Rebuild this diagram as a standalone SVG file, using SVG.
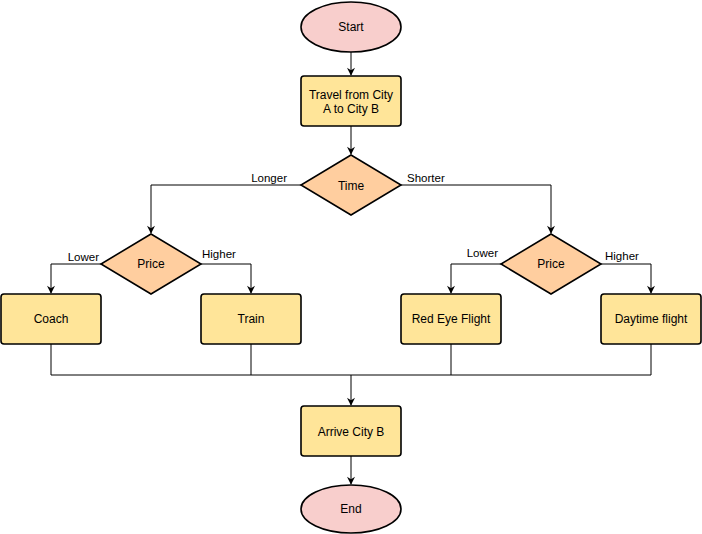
<svg xmlns="http://www.w3.org/2000/svg" width="702" height="534" viewBox="0 0 702 534">
<style>
.term{fill:#f8cecc;stroke:#000;stroke-width:1.6}
.proc{fill:#ffe599;stroke:#000;stroke-width:1.6}
.dec{fill:#ffce9f;stroke:#000;stroke-width:1.6}
.t{font-family:"Liberation Sans",Arial,sans-serif;font-size:12px;fill:#000;text-anchor:middle;dominant-baseline:central}
.l{font-family:"Liberation Sans",Arial,sans-serif;font-size:11.5px;fill:#000}
.c{fill:none;stroke:#000;stroke-width:1}
</style>
<defs>
<marker id="arr" viewBox="0 0 10 10" refX="9" refY="5" markerWidth="9" markerHeight="8" markerUnits="userSpaceOnUse" orient="auto">
<path d="M0,0 L10,5 L0,10 L3,5 Z" fill="#000"/>
</marker>
</defs>
<rect width="702" height="534" fill="#fff"/>
<g id="connectors">
<path class="c" d="M351,52 V75" marker-end="url(#arr)"/>
<path class="c" d="M351,126 V154" marker-end="url(#arr)"/>
<path class="c" d="M301,185 H151 V233" marker-end="url(#arr)"/>
<path class="c" d="M401,185 H551 V233" marker-end="url(#arr)"/>
<path class="c" d="M101,264 H51 V293" marker-end="url(#arr)"/>
<path class="c" d="M201,264 H251 V293" marker-end="url(#arr)"/>
<path class="c" d="M501,264 H451 V293" marker-end="url(#arr)"/>
<path class="c" d="M601,264 H651 V293" marker-end="url(#arr)"/>
<path class="c" d="M51,344 V375 H651 V344 M251,344 V375 M451,344 V375"/>
<path class="c" d="M351,375 V405" marker-end="url(#arr)"/>
<path class="c" d="M351,456 V484" marker-end="url(#arr)"/>
<text class="l" x="287" y="182" text-anchor="end">Longer</text>
<text class="l" x="407" y="182">Shorter</text>
<text class="l" x="99" y="261" text-anchor="end">Lower</text>
<text class="l" x="202" y="258">Higher</text>
<text class="l" x="498" y="257" text-anchor="end">Lower</text>
<text class="l" x="605" y="260">Higher</text>
</g>
<g id="start"><ellipse class="term" cx="351" cy="27" rx="50" ry="25"/><text class="t" x="351" y="27">Start</text></g>
<g id="travel"><rect class="proc" x="301" y="76" width="100" height="50" rx="3"/><text class="t" x="351" y="95">Travel from City</text><text class="t" x="351" y="109">A to City B</text></g>
<g id="time"><polygon class="dec" points="351,155 401,185 351,215 301,185"/><text class="t" x="351" y="186">Time</text></g>
<g id="price1"><polygon class="dec" points="151,234 201,264 151,294 101,264"/><text class="t" x="151" y="264">Price</text></g>
<g id="price2"><polygon class="dec" points="551,234 601,264 551,294 501,264"/><text class="t" x="551" y="264">Price</text></g>
<g id="coach"><rect class="proc" x="1" y="294" width="100" height="50" rx="3"/><text class="t" x="51" y="319">Coach</text></g>
<g id="train"><rect class="proc" x="201" y="294" width="100" height="50" rx="3"/><text class="t" x="251" y="319">Train</text></g>
<g id="redeye"><rect class="proc" x="401" y="294" width="100" height="50" rx="3"/><text class="t" x="451" y="319">Red Eye Flight</text></g>
<g id="daytime"><rect class="proc" x="601" y="294" width="100" height="50" rx="3"/><text class="t" x="651" y="319">Daytime flight</text></g>
<g id="arrive"><rect class="proc" x="301" y="406" width="100" height="50" rx="3"/><text class="t" x="351" y="432">Arrive City B</text></g>
<g id="end"><ellipse class="term" cx="351" cy="509" rx="50" ry="24"/><text class="t" x="351" y="509">End</text></g>
</svg>
